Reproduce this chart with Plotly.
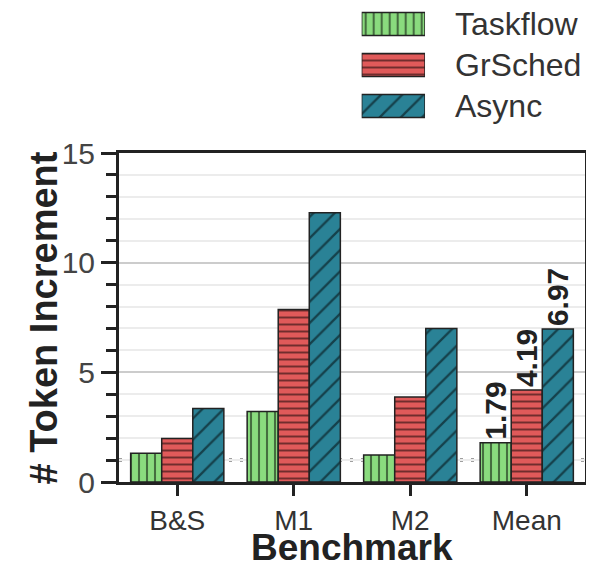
import plotly.graph_objects as go

categories = ["B&S", "M1", "M2", "Mean"]
series_names = ["Taskflow", "GrSched", "Async"]
taskflow = [1.31, 3.21, 1.23, 1.79]
grsched = [1.98, 7.87, 3.88, 4.19]
async_vals = [3.35, 12.28, 7.0, 6.97]
series_values = [taskflow, grsched, async_vals]
baseline = 1.0
y_ticks = [0, 5, 10, 15]
x_title = "Benchmark"
y_title = "# Token Increment"

colors = ["#8ADB7E", "#E05A5A", "#2A8296"]
patterns = ["|", "-", "/"]
pat_sizes = [8, 7, 15]
pat_sol = [0.26, 0.28, 0.15]
FONT = "Liberation Sans, Arial, sans-serif"

fig = go.Figure()
for name, vals, c, p, ps, so in zip(series_names, series_values, colors, patterns, pat_sizes, pat_sol):
    texts = [f"{v:.2f}" if cat == "Mean" else "" for cat, v in zip(categories, vals)]
    fig.add_trace(go.Bar(
        x=categories, y=vals, name=name, showlegend=False,
        marker=dict(color=c, line=dict(color="#222", width=1.5),
                    pattern=dict(shape=p, fgcolor="#000", bgcolor=c, size=ps, solidity=so)),
        text=texts, textposition="outside", textangle=-90, constraintext="none",
        textfont=dict(family=FONT, size=30, color="#222", weight="bold"),
        cliponaxis=False, xaxis="x", yaxis="y",
    ))

# legend drawn as a small bar subplot (one bar per series)
for name, c, p, ps, so in zip(series_names, colors, patterns, pat_sizes, pat_sol):
    fig.add_trace(go.Bar(
        y=[name], x=[1], orientation="h", width=0.56, offset=-0.28, showlegend=False,
        marker=dict(color=c, line=dict(color="#222", width=1.5),
                    pattern=dict(shape=p, fgcolor="#000", bgcolor=c, size=ps, solidity=so)),
        xaxis="x2", yaxis="y2", hoverinfo="skip",
    ))

fig.add_shape(type="line", xref="x domain", yref="y", x0=0, x1=1, y0=baseline, y1=baseline,
              line=dict(color="#808080", width=3.5, dash="3px,8px"), layer="below")

fig.add_annotation(text=x_title, xref="paper", yref="paper", x=0.5, y=-0.138,
                   xanchor="center", yanchor="middle", showarrow=False,
                   font=dict(family=FONT, size=37, color="#222", weight="bold"))
fig.add_annotation(text=y_title, xref="paper", yref="paper", x=-0.162, y=0.346,
                   xanchor="center", yanchor="middle", showarrow=False, textangle=-90,
                   font=dict(family=FONT, size=38, color="#222", weight="bold"))

fig.update_layout(
    width=586, height=558,
    margin=dict(l=111, r=9, t=0, b=84, autoexpand=False),
    paper_bgcolor="white", plot_bgcolor="white",
    barmode="group", bargap=0.2, bargroupgap=0,
    font=dict(family=FONT, color="#333"),
    xaxis=dict(domain=[0, 1], anchor="y", range=[-0.5, 3.5], automargin=False,
               showline=True, linecolor="#222", linewidth=3, mirror=True,
               ticks="outside", ticklen=11, tickwidth=2.5, tickcolor="#222",
               tickfont=dict(size=28, color="#333")),
    yaxis=dict(domain=[0, 329 / 474], anchor="x", range=[0, 15], tickvals=y_ticks, automargin=False,
               showline=True, linecolor="#222", linewidth=3, mirror=True,
               ticks="outside", ticklen=15, tickwidth=2.5, tickcolor="#222",
               tickfont=dict(size=30, color="#444"),
               showgrid=True, gridcolor="#cccccc", gridwidth=2, zeroline=False,
               minor=dict(dtick=1, ticks="outside", ticklen=10, tickwidth=2.5, tickcolor="#222",
                          showgrid=True, gridcolor="#ececec", gridwidth=2)),
    xaxis2=dict(domain=[0.5208, 0.6567], anchor="y2", range=[0, 1], visible=False),
    yaxis2=dict(domain=[0.75, 1.0], anchor="x2", side="right", range=[2.5, -0.39], automargin=False,
                showgrid=False, showline=False, zeroline=False, ticks="",
                ticklabelstandoff=29, tickfont=dict(size=32, color="#333")),
)

fig.write_html("out.html")
